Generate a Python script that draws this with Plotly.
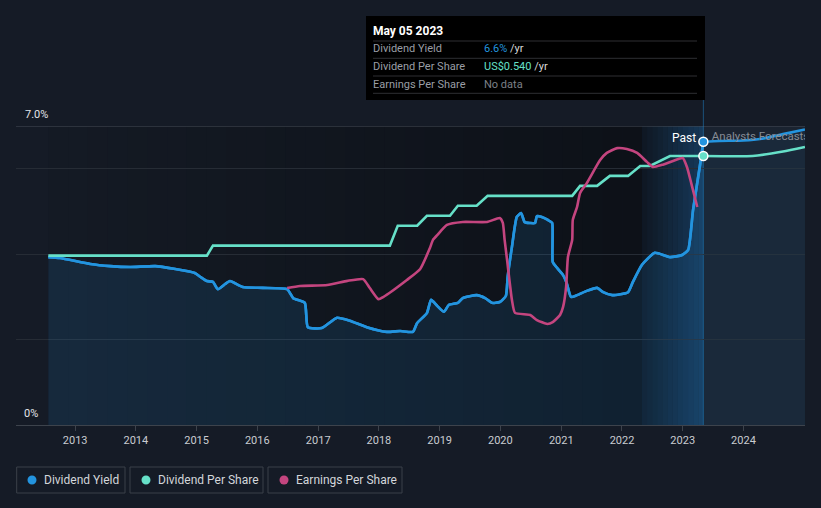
import pandas as pd
import plotly.graph_objects as go

# ---------------- data (decimal years) ----------------
yield_years = [2012.56, 2012.75, 2013.25, 2013.58, 2013.91, 2014.32, 2014.65, 2014.97, 2015.06, 2015.17,
               2015.27, 2015.35, 2015.47, 2015.55, 2015.76, 2016.09, 2016.49, 2016.59, 2016.78, 2016.83,
               2017.06, 2017.31, 2017.52, 2017.80, 2018.13, 2018.35, 2018.56, 2018.63, 2018.79, 2018.86,
               2018.96, 2019.07, 2019.15, 2019.30, 2019.38, 2019.61, 2019.75, 2019.86, 2019.99, 2020.09,
               2020.12, 2020.19, 2020.27, 2020.34, 2020.40, 2020.49, 2020.57, 2020.60, 2020.68, 2020.78,
               2020.85, 2020.86, 2020.93, 2021.03, 2021.09, 2021.16, 2021.26, 2021.42, 2021.59, 2021.69,
               2021.84, 2022.10, 2022.18, 2022.33, 2022.54, 2022.79, 2022.99, 2023.09, 2023.17, 2023.28,
               2023.34]
yield_vals = [3.93, 3.91, 3.77, 3.72, 3.70, 3.72, 3.65, 3.56, 3.47, 3.37,
              3.35, 3.18, 3.30, 3.37, 3.23, 3.21, 3.18, 2.97, 2.86, 2.29,
              2.27, 2.51, 2.44, 2.29, 2.18, 2.20, 2.18, 2.39, 2.62, 2.93,
              2.79, 2.65, 2.81, 2.86, 2.97, 3.04, 2.97, 2.86, 2.88, 3.02,
              3.47, 4.17, 4.87, 4.96, 4.75, 4.73, 4.73, 4.89, 4.87, 4.80,
              4.73, 3.82, 3.68, 3.51, 3.32, 3.00, 3.04, 3.14, 3.21, 3.11,
              3.04, 3.11, 3.35, 3.75, 4.03, 3.93, 3.98, 4.10, 5.03, 6.04,
              6.63]
yield_fc_years = [2023.34, 2023.60, 2024.00, 2024.30, 2024.65, 2025.01]
yield_fc_vals = [6.63, 6.65, 6.66, 6.70, 6.81, 6.92]

dps_years = [2012.56, 2015.17, 2015.27, 2018.18, 2018.31, 2018.63, 2018.79, 2019.17, 2019.30, 2019.61,
             2019.79, 2021.18, 2021.31, 2021.59, 2021.80, 2022.10, 2022.30, 2022.46, 2022.79, 2023.34]
dps_vals = [0.34, 0.34, 0.36, 0.36, 0.40, 0.40, 0.42, 0.42, 0.44, 0.44,
            0.46, 0.46, 0.48, 0.48, 0.50, 0.50, 0.52, 0.52, 0.54, 0.54]
dps_fc_years = [2023.34, 2024.15, 2024.65, 2025.01]
dps_fc_vals = [0.54, 0.54, 0.549, 0.558]

eps_years = [2016.49, 2016.70, 2017.15, 2017.48, 2017.74, 2017.85, 2017.99, 2018.07, 2018.46, 2018.68,
             2018.84, 2018.89, 2018.96, 2019.12, 2019.38, 2019.78, 2019.99, 2020.04, 2020.07, 2020.11,
             2020.19, 2020.24, 2020.49, 2020.60, 2020.77, 2020.86, 2020.98, 2021.03, 2021.08, 2021.11,
             2021.18, 2021.19, 2021.26, 2021.31, 2021.42, 2021.64, 2021.75, 2021.92, 2022.08, 2022.25,
             2022.41, 2022.51, 2022.66, 2022.84, 2023.00, 2023.07, 2023.14, 2023.24]
eps_vals = [0.458, 0.465, 0.468, 0.482, 0.488, 0.458, 0.421, 0.428, 0.485, 0.522,
            0.592, 0.619, 0.635, 0.669, 0.679, 0.679, 0.692, 0.676, 0.619, 0.552,
            0.418, 0.375, 0.368, 0.351, 0.338, 0.344, 0.368, 0.395, 0.462, 0.562,
            0.619, 0.686, 0.729, 0.776, 0.809, 0.886, 0.910, 0.926, 0.923, 0.910,
            0.880, 0.863, 0.870, 0.883, 0.893, 0.863, 0.809, 0.729]

tick_years = list(range(2013, 2025))
tick_labels = [str(y) for y in tick_years]


def yr(d):
    y = int(d)
    s = pd.Timestamp(y, 1, 1)
    e = pd.Timestamp(y + 1, 1, 1)
    return s + (e - s) * (d - y)


def dates(lst):
    return [yr(v) for v in lst]


BG = "#151b26"
BLUE = "#2394df"
TEAL = "#66e0c8"
MAG = "#c4457f"
FONT = "Roboto"
SM = 0.5

fig = go.Figure()

# blue area (past)
fig.add_trace(go.Scatter(x=dates(yield_years), y=yield_vals, mode="lines",
                         line=dict(color=BLUE, width=2.6, shape="spline", smoothing=SM), fill="tozeroy",
                         fillcolor="rgba(35,148,223,0.13)", yaxis="y", hoverinfo="skip"))
fig.add_trace(go.Scatter(x=dates(yield_fc_years), y=yield_fc_vals, mode="lines",
                         line=dict(color=BLUE, width=2.6, shape="spline", smoothing=SM), fill="tozeroy",
                         fillcolor="rgba(35,148,223,0.06)", yaxis="y", hoverinfo="skip"))
# EPS
fig.add_trace(go.Scatter(x=dates(eps_years), y=eps_vals, mode="lines",
                         line=dict(color=MAG, width=2.6, shape="spline", smoothing=SM),
                         yaxis="y3", hoverinfo="skip"))
# DPS
fig.add_trace(go.Scatter(x=dates(dps_years), y=dps_vals, mode="lines",
                         line=dict(color=TEAL, width=2.6), yaxis="y2", hoverinfo="skip"))
fig.add_trace(go.Scatter(x=dates(dps_fc_years), y=dps_fc_vals, mode="lines",
                         line=dict(color=TEAL, width=2.6, shape="spline", smoothing=SM),
                         yaxis="y2", hoverinfo="skip"))
# redraw blue on top
fig.add_trace(go.Scatter(x=dates(yield_years), y=yield_vals, mode="lines",
                         line=dict(color=BLUE, width=2.6, shape="spline", smoothing=SM),
                         yaxis="y", hoverinfo="skip"))
# end markers
fig.add_trace(go.Scatter(x=[yr(yield_years[-1])], y=[yield_vals[-1]], mode="markers",
                         marker=dict(color=BLUE, size=9, line=dict(color="white", width=1.5)),
                         yaxis="y", hoverinfo="skip"))
fig.add_trace(go.Scatter(x=[yr(dps_years[-1])], y=[dps_vals[-1]], mode="markers",
                         marker=dict(color=TEAL, size=9, line=dict(color="white", width=1.5)),
                         yaxis="y2", hoverinfo="skip"))
# "Analysts Forecasts" clipped text
fig.add_trace(go.Scatter(x=[yr(2023.48)], y=[6.74], mode="text", text=["Analysts Forecasts"],
                         textposition="middle right", textfont=dict(color="#878c95", size=11.5, family=FONT),
                         cliponaxis=True, yaxis="y", hoverinfo="skip"))

shapes = []


def hexmix(c1, c2, t):
    a = [int(c1[i:i + 2], 16) for i in (1, 3, 5)]
    b = [int(c2[i:i + 2], 16) for i in (1, 3, 5)]
    return "#" + "".join("%02x" % round(a[k] + (b[k] - a[k]) * t) for k in range(3))


# past region gradient
n = 30
p0, p1 = yield_years[0], 2022.33
for i in range(n):
    t = i / (n - 1)
    shapes.append(dict(type="rect", xref="x", yref="paper",
                       x0=yr(p0 + (p1 - p0) * i / n), x1=yr(p0 + (p1 - p0) * (i + 1) / n + 0.003),
                       y0=0, y1=1, fillcolor=hexmix("#141a24", "#0d1118", t), line_width=0, layer="below"))
# last-year band gradient
n2 = 12
b0, b1 = 2022.33, 2023.34
for i in range(n2):
    t = i / (n2 - 1)
    shapes.append(dict(type="rect", xref="x", yref="paper",
                       x0=yr(b0 + (b1 - b0) * i / n2), x1=yr(b0 + (b1 - b0) * (i + 1) / n2 + 0.002),
                       y0=0, y1=1, fillcolor=hexmix("#0f1824", "#163858", t), line_width=0, layer="below"))
# forecast region
shapes.append(dict(type="rect", xref="x", yref="paper", x0=yr(2023.34), x1=yr(2025.02),
                   y0=0, y1=1, fillcolor="#1a2330", line_width=0, layer="below"))
# top 7% line
shapes.append(dict(type="line", xref="paper", yref="y", x0=0, x1=1, y0=7, y1=7,
                   line=dict(color="#474d56", width=1), layer="below"))
# vertical now line
shapes.append(dict(type="line", xref="x", yref="paper", x0=yr(2023.34), x1=yr(2023.34),
                   y0=0, y1=1.087, line=dict(color="rgba(35,148,223,0.45)", width=1), layer="below"))


def px_x(p):
    return (p - 16) / 789


def px_y(p):
    return (425 - p) / 299


# tooltip box
shapes.append(dict(type="rect", xref="paper", yref="paper", x0=px_x(366), x1=px_x(705),
                   y0=px_y(100), y1=px_y(16), fillcolor="#000000", line_width=0, layer="above"))
for sy in (41, 58.3, 76, 93.3):
    shapes.append(dict(type="line", xref="paper", yref="paper", x0=px_x(373), x1=px_x(697),
                       y0=px_y(sy), y1=px_y(sy), line=dict(color="#2e2f33", width=1), layer="above"))

# legend boxes
legend_items = [("Dividend Yield", BLUE, 16.7, 125, 32), ("Dividend Per Share", TEAL, 130, 263, 146),
                ("Earnings Per Share", MAG, 268, 402, 284)]
annotations = []
for name, col, bx0, bx1, dx in legend_items:
    shapes.append(dict(type="rect", xref="paper", yref="paper", x0=px_x(bx0), x1=px_x(bx1),
                       y0=px_y(493), y1=px_y(467), line=dict(color="#3a4049", width=1),
                       fillcolor="rgba(0,0,0,0)", layer="above"))
    shapes.append(dict(type="circle", xref="paper", yref="paper", x0=px_x(dx - 4.5), x1=px_x(dx + 4.5),
                       y0=px_y(484.5), y1=px_y(475.5), fillcolor=col, line_width=0, layer="above"))
    annotations.append(dict(xref="paper", yref="paper", x=px_x(dx + 10), y=px_y(480), text=name,
                            showarrow=False, xanchor="left", yanchor="middle",
                            font=dict(color="#d3d6da", size=12, family=FONT)))

# tooltip text
annotations.append(dict(xref="paper", yref="paper", x=px_x(371), y=px_y(31), text="<b>May 05 2023</b>",
                        showarrow=False, xanchor="left", yanchor="middle",
                        font=dict(color="#ffffff", size=12, family=FONT)))
rows = [("Dividend Yield", "<span style='color:#2394df'>6.6%</span> /yr", 49),
        ("Dividend Per Share", "<span style='color:#66e0c8'>US$0.540</span> /yr", 66.7),
        ("Earnings Per Share", "<span style='color:#7d8088'>No data</span>", 84.3)]
for lab, val, ry in rows:
    annotations.append(dict(xref="paper", yref="paper", x=px_x(371), y=px_y(ry), text=lab,
                            showarrow=False, xanchor="left", yanchor="middle",
                            font=dict(color="#9a9ea5", size=11, family=FONT)))
    annotations.append(dict(xref="paper", yref="paper", x=px_x(482), y=px_y(ry), text=val,
                            showarrow=False, xanchor="left", yanchor="middle",
                            font=dict(color="#d8d8d8", size=11, family=FONT)))

# y labels
annotations.append(dict(xref="paper", yref="paper", x=px_x(23), y=px_y(114), text="7.0%",
                        showarrow=False, xanchor="left", yanchor="middle",
                        font=dict(color="#e4e6e9", size=11, family=FONT)))
annotations.append(dict(xref="paper", yref="paper", x=px_x(22), y=px_y(413), text="0%",
                        showarrow=False, xanchor="left", yanchor="middle",
                        font=dict(color="#e4e6e9", size=11, family=FONT)))
# Past label
annotations.append(dict(xref="x", yref="paper", x=yr(2023.34), y=px_y(138), text="Past",
                        showarrow=False, xanchor="right", yanchor="middle", xshift=-5,
                        font=dict(color="#ffffff", size=12, family=FONT)))

fig.update_layout(
    width=821, height=508, autosize=False,
    margin=dict(l=16, r=16, t=126, b=83, pad=0),
    paper_bgcolor=BG, plot_bgcolor=BG,
    showlegend=False,
    font=dict(family=FONT, color="#d0d3d8"),
    xaxis=dict(type="date", range=[yr(2012.029), yr(2025.011)],
               tickvals=[yr(y) for y in tick_years], ticktext=tick_labels,
               showgrid=False, zeroline=False, showline=True, linecolor="#3d434c", linewidth=1,
               ticks="outside", ticklen=5, tickcolor="#3d434c",
               tickfont=dict(size=11, color="#c9ccd1", family=FONT)),
    yaxis=dict(range=[0, 7], tickvals=[2, 4, 6], showticklabels=False, showgrid=True,
               gridcolor="#262c35", gridwidth=1, zeroline=False, showline=False, fixedrange=True),
    yaxis2=dict(range=[0, 0.6002], overlaying="y", visible=False, showgrid=False),
    yaxis3=dict(range=[0, 1.0], overlaying="y", visible=False, showgrid=False),
    shapes=shapes,
    annotations=annotations,
    hovermode=False,
)

fig.write_html("out.html", config={"displayModeBar": False},
               post_script="document.body.style.margin='0';document.body.style.overflow='hidden';"
                           "document.body.style.background='#151b26';")
